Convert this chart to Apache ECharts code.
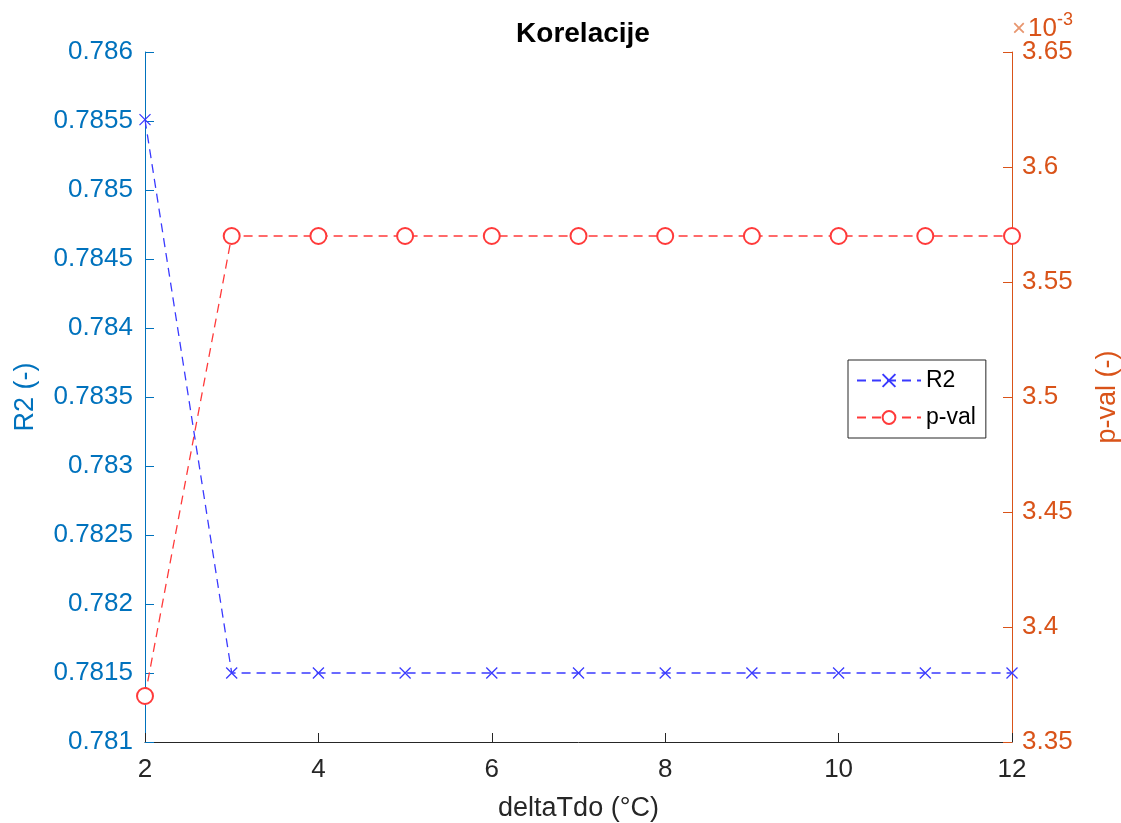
<!DOCTYPE html>
<html><head><meta charset="utf-8">
<script src="https://cdn.jsdelivr.net/npm/echarts@6/dist/echarts.min.js"></script>
<style>html,body{margin:0;padding:0;background:#fff}#c{width:1121px;height:823px}</style>
</head><body><div id="c"></div>
<script>
const deltaT = [2, 3, 4, 5, 6, 7, 8, 9, 10, 11, 12];
const r2 = [0.78551, 0.7815, 0.7815, 0.7815, 0.7815, 0.7815, 0.7815, 0.7815, 0.7815, 0.7815, 0.7815];
const pval = [0.00337, 0.00357, 0.00357, 0.00357, 0.00357, 0.00357, 0.00357, 0.00357, 0.00357, 0.00357, 0.00357];

const FONT = 'Liberation Sans, Arial, Helvetica, sans-serif';
const chart = echarts.init(document.getElementById('c'));
const crossPath = 'path://M0,0L10,10M10,0L0,10';
chart.setOption({
  backgroundColor: '#fff',
  animation: false,
  title: {
    text: 'Korelacije', left: 578, top: 15, textAlign: 'center',
    textStyle: { fontFamily: FONT, fontSize: 28, fontWeight: 'bold', color: '#000' }
  },
  grid: { left: 145, right: 109, top: 52, bottom: 81, outerBoundsMode: 'none', containLabel: false },
  legend: {
    orient: 'vertical', left: 848, top: 360,
    padding: [9, 10, 9, 8],
    itemGap: 14, itemWidth: 64, itemHeight: 16,
    backgroundColor: '#fff',
    borderColor: '#262626', borderWidth: 1,
    textStyle: { fontFamily: FONT, fontSize: 23, color: '#000' },
    data: ['R2', 'p-val']
  },
  xAxis: {
    type: 'value', min: 2, max: 12, interval: 2,
    name: 'deltaTdo (°C)', nameLocation: 'middle', nameGap: 53,
    nameTextStyle: { fontFamily: FONT, fontSize: 27, color: '#262626' },
    axisLine: { onZero: false, lineStyle: { color: '#262626', width: 1 } },
    axisTick: { inside: true, length: 9, lineStyle: { color: '#262626' } },
    axisLabel: { fontFamily: FONT, fontSize: 26, color: '#262626', margin: 15 },
    splitLine: { show: false }
  },
  yAxis: [{
    type: 'value', position: 'left', min: 0.781, max: 0.786, interval: 0.0005,
    name: 'R2 (-)', nameLocation: 'middle', nameGap: 106, nameRotate: 90,
    nameTextStyle: { fontFamily: FONT, fontSize: 27, color: '#0072BD' },
    axisLine: { show: true, onZero: false, lineStyle: { color: '#0072BD', width: 1 } },
    axisTick: { show: true, inside: true, length: 9, lineStyle: { color: '#0072BD' } },
    axisLabel: { fontFamily: FONT, fontSize: 26, color: '#0072BD', margin: 12,
      formatter: v => String(+v.toFixed(4)) },
    splitLine: { show: false }
  }, {
    type: 'value', position: 'right', min: 0.00335, max: 0.00365, interval: 0.00005,
    name: 'p-val (-)', nameLocation: 'middle', nameGap: 82, nameRotate: 90,
    nameTextStyle: { fontFamily: FONT, fontSize: 27, color: '#D95319' },
    axisLine: { show: true, onZero: false, lineStyle: { color: '#D95319', width: 1 } },
    axisTick: { show: true, inside: true, length: 9, lineStyle: { color: '#D95319' } },
    axisLabel: { fontFamily: FONT, fontSize: 26, color: '#D95319', margin: 10,
      formatter: v => String(+(v * 1000).toFixed(2)) },
    splitLine: { show: false }
  }],
  graphic: [{
    type: 'text', left: 1012, top: 11,
    style: {
      text: '{x|×}{b|10}{s|-3}',
      rich: {
        x: { fontFamily: FONT, fontSize: 24, fill: '#E8966F', padding: [10, 2, 0, 0] },
        b: { fontFamily: FONT, fontSize: 26, fill: '#D95319', padding: [10, 0, 0, 0] },
        s: { fontFamily: FONT, fontSize: 18, fill: '#D95319', padding: [0, 0, 8, 0] }
      }
    }
  }],
  series: [{
    name: 'R2', type: 'line', yAxisIndex: 0,
    data: deltaT.map((x, i) => [x, r2[i]]),
    symbol: crossPath, symbolSize: 11, showAllSymbol: true,
    itemStyle: { color: '#3a3aff', borderColor: '#3a3aff', borderWidth: 1.3 },
    lineStyle: { color: '#3a3aff', width: 1.3, type: [9, 6] },
    z: 3
  }, {
    name: 'p-val', type: 'line', yAxisIndex: 1,
    data: deltaT.map((x, i) => [x, pval[i]]),
    symbol: 'emptyCircle', symbolSize: 16, showAllSymbol: true,
    itemStyle: { color: '#ff3a3a', borderColor: '#ff3a3a', borderWidth: 1.3 },
    lineStyle: { color: '#ff3a3a', width: 1.3, type: [9, 6] },
    z: 2
  }]
});
</script>
</body></html>
